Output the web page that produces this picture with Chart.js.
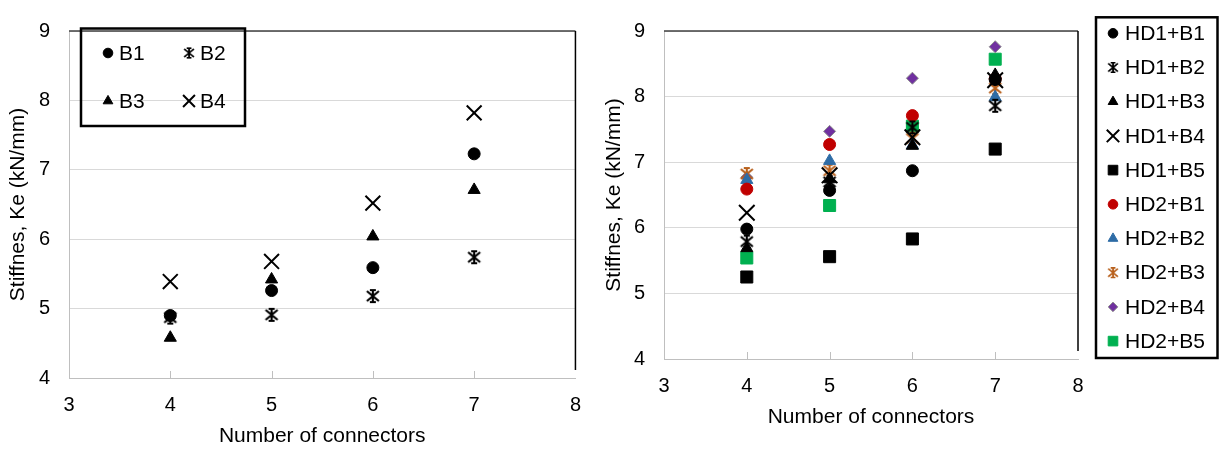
<!DOCTYPE html>
<html>
<head>
<meta charset="utf-8">
<script src="https://cdn.jsdelivr.net/npm/chart.js@4.4.1/dist/chart.umd.min.js"></script>
<style>
  body { margin: 0; background: #fff; }
  #wrap { position: relative; width: 1219px; height: 451px; }
  #left { position: absolute; left: 0; top: 0; }
  #right { position: absolute; left: 596px; top: 0; }
</style>
</head>
<body>
<div id="wrap">
  <canvas id="left" width="596" height="451"></canvas>
  <canvas id="right" width="623" height="451"></canvas>
</div>
<script>
// data
const connectors = [4, 5, 6, 7];
const xTicks = [3, 4, 5, 6, 7, 8];
const yTicks = [4, 5, 6, 7, 8, 9];

const B1 = [4.90, 5.26, 5.59, 7.23];
const B2 = [4.87, 4.91, 5.18, 5.74];
const B3 = [4.58, 5.42, 6.04, 6.71];
const B4 = [5.39, 5.68, 6.52, 7.82];

const HD1_B1 = [5.98, 6.57, 6.87, 8.26];
const HD1_B2 = [5.79, 6.70, 7.53, 7.86];
const HD1_B3 = [5.69, 6.74, 7.25, 8.33];
const HD1_B4 = [6.23, 6.80, 7.38, 8.25];
const HD1_B5 = [5.25, 5.56, 5.83, 7.20];
const HD2_B1 = [6.59, 7.27, 7.71, 8.27];
const HD2_B2 = [6.73, 7.02, 7.26, 7.99];
const HD2_B3 = [6.82, 6.87, 7.36, 8.13];
const HD2_B4 = [6.77, 7.47, 8.28, 8.76];
const HD2_B5 = [5.54, 6.34, 7.55, 8.57];

const FONT = "'Liberation Sans', Arial, sans-serif";

// excel style star marker (x + vertical bar with caps)
function starMarker(color) {
  const c = document.createElement('canvas');
  c.width = c.height = 16;
  const g = c.getContext('2d');
  g.strokeStyle = color;
  g.lineWidth = 2.2;
  g.beginPath();
  g.moveTo(2, 3); g.lineTo(14, 13);
  g.moveTo(14, 3); g.lineTo(2, 13);
  g.moveTo(8, 1); g.lineTo(8, 15);
  g.moveTo(5, 2); g.lineTo(11, 2);
  g.moveTo(5, 14); g.lineTo(11, 14);
  g.stroke();
  return c;
}

function series(label, values, style, color, radius, border) {
  return {
    label: label,
    data: connectors.map((x, i) => ({ x: x, y: values[i] })),
    pointStyle: style,
    pointRadius: radius,
    pointHoverRadius: radius,
    pointBackgroundColor: color,
    pointBorderColor: border || color,
    pointBorderWidth: style === 'crossRot' ? 2 : 1,
    showLine: false
  };
}

function drawMarker(ctx, ds, x, y, k) {
  const style = ds.pointStyle;
  if (style instanceof HTMLCanvasElement) {
    const w = style.width * k, h = style.height * k;
    ctx.drawImage(style, x - w / 2, y - h / 2, w, h);
    return;
  }
  ctx.fillStyle = ds.pointBackgroundColor;
  ctx.strokeStyle = ds.pointBorderColor;
  ctx.lineWidth = ds.pointBorderWidth;
  Chart.helpers.drawPoint(ctx, {
    pointStyle: style, radius: ds.pointRadius * k, rotation: 0, borderWidth: ds.pointBorderWidth
  }, x, y);
}

// legend with a black box, drawn by hand
const boxLegend = {
  id: 'boxLegend',
  afterDraw(chart, args, o) {
    const ctx = chart.ctx;
    ctx.save();
    ctx.lineWidth = o.lineWidth;
    ctx.strokeStyle = '#000';
    ctx.strokeRect(o.box[0], o.box[1], o.box[2] - o.box[0], o.box[3] - o.box[1]);
    ctx.font = '21px ' + FONT;
    ctx.textBaseline = 'middle';
    chart.data.datasets.forEach((ds, i) => {
      const col = i % o.cols, row = Math.floor(i / o.cols);
      const x = o.x0 + col * o.dx, y = o.y0 + row * o.dy;
      drawMarker(ctx, ds, x, y, o.scale);
      ctx.fillStyle = '#000';
      ctx.fillText(ds.label, x + o.gap, y + 1);
    });
    ctx.restore();
  }
};

// top / right border of plot area and small inside ticks on x axis
const frame = {
  id: 'frame',
  beforeDatasetsDraw(chart) {
    const ctx = chart.ctx, a = chart.chartArea, x = chart.scales.x;
    ctx.save();
    ctx.strokeStyle = '#bfbfbf';
    ctx.lineWidth = 1;
    x.ticks.slice(1, -1).forEach(t => {
      const px = Math.round(x.getPixelForValue(t.value)) + 0.5;
      ctx.beginPath();
      ctx.moveTo(px, a.bottom);
      ctx.lineTo(px, a.bottom - 7);
      ctx.stroke();
    });
    ctx.lineWidth = 1.5;
    ctx.strokeStyle = '#404040';
    ctx.beginPath();
    ctx.moveTo(a.left, a.top);
    ctx.lineTo(a.right, a.top);
    ctx.stroke();
    ctx.strokeStyle = '#000';
    ctx.beginPath();
    ctx.moveTo(a.right, a.top);
    ctx.lineTo(a.right, a.bottom - 8);
    ctx.stroke();
    ctx.restore();
  }
};

function makeScales(yWidth, xHeight, xTitlePad) {
  return {
    x: {
      type: 'linear',
      min: xTicks[0], max: xTicks[xTicks.length - 1],
      afterFit: s => { s.height = xHeight; },
      ticks: { stepSize: 1, padding: 15, color: '#000', font: { family: FONT, size: 20 } },
      grid: { drawOnChartArea: false, drawTicks: false },
      border: { color: '#bfbfbf', width: 1 },
      title: {
        display: true, text: 'Number of connectors', color: '#000',
        font: { family: FONT, size: 21 }, padding: { top: 0, bottom: xTitlePad }
      }
    },
    y: {
      min: yTicks[0], max: yTicks[yTicks.length - 1],
      afterFit: s => { s.width = yWidth; },
      ticks: { stepSize: 1, padding: 19, color: '#000', font: { family: FONT, size: 20 } },
      grid: { color: '#d9d9d9', drawTicks: false },
      border: { color: '#bfbfbf', width: 1 },
      title: {
        display: true, text: 'Stiffnes, Ke (kN/mm)', color: '#000',
        font: { family: FONT, size: 21 }, padding: { top: 6, bottom: 0 }
      }
    }
  };
}

new Chart(document.getElementById('left'), {
  type: 'scatter',
  data: {
    datasets: [
      series('B1', B1, 'circle', '#000', 6),
      series('B2', B2, starMarker('#000'), '#000', 7),
      series('B3', B3, 'triangle', '#000', 7),
      series('B4', B4, 'crossRot', '#000', 10.5)
    ]
  },
  options: {
    responsive: false,
    animation: false,
    events: [],
    layout: { padding: { top: 18, right: 17, left: 0, bottom: 0 } },
    scales: makeScales(69, 73, 2),
    plugins: {
      legend: { display: false },
      tooltip: { enabled: false },
      boxLegend: { box: [81, 28.5, 245, 126], lineWidth: 2.5, cols: 2, x0: 108, dx: 81, y0: 53, dy: 48, gap: 11, scale: 0.8 }
    }
  },
  plugins: [frame, boxLegend]
});

new Chart(document.getElementById('right'), {
  type: 'scatter',
  data: {
    datasets: [
      series('HD1+B1', HD1_B1, 'circle', '#000', 6),
      series('HD1+B2', HD1_B2, starMarker('#000'), '#000', 7),
      series('HD1+B3', HD1_B3, 'triangle', '#000', 7),
      series('HD1+B4', HD1_B4, 'crossRot', '#000', 11),
      series('HD1+B5', HD1_B5, 'rect', '#000', 8.5),
      series('HD2+B1', HD2_B1, 'circle', '#c00000', 6),
      series('HD2+B2', HD2_B2, 'triangle', '#2e6ca6', 7),
      series('HD2+B3', HD2_B3, starMarker('#b8601c'), '#b8601c', 7),
      series('HD2+B4', HD2_B4, 'rectRot', '#7030a0', 6, '#8c8c8c'),
      series('HD2+B5', HD2_B5, 'rect', '#00b050', 8.5)
    ]
  },
  options: {
    responsive: false,
    animation: false,
    events: [],
    layout: { padding: { top: 15, right: 141, left: 0, bottom: 0 } },
    scales: makeScales(68, 92, 21),
    plugins: {
      legend: { display: false },
      tooltip: { enabled: false },
      boxLegend: { box: [500, 17.3, 621.5, 358], lineWidth: 2.5, cols: 1, x0: 517, dx: 0, y0: 33.3, dy: 34.2, gap: 12, scale: 0.8 }
    }
  },
  plugins: [frame, boxLegend]
});
</script>
</body>
</html>
